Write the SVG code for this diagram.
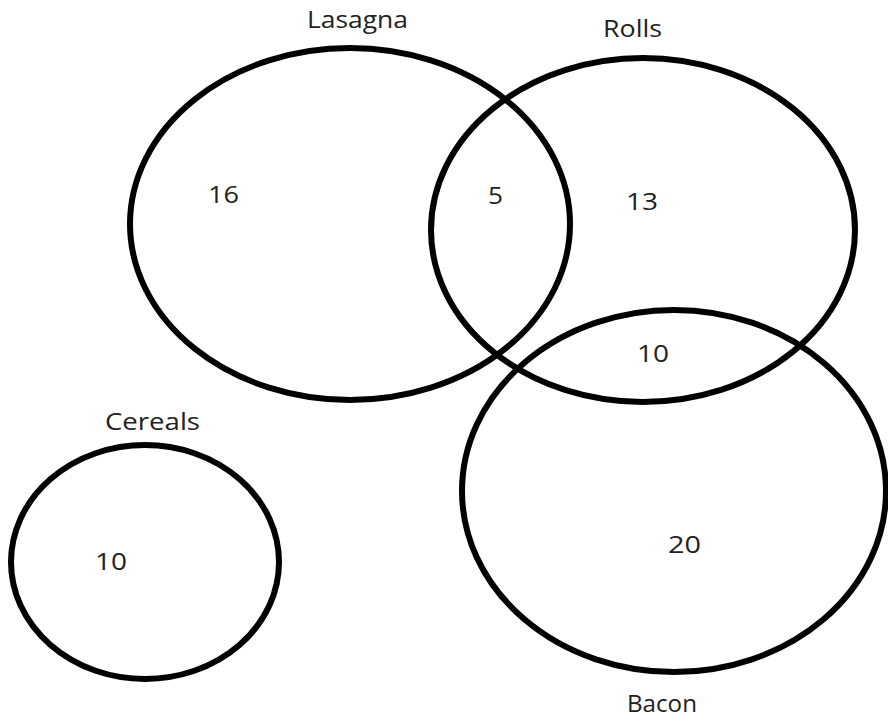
<svg xmlns="http://www.w3.org/2000/svg" width="888" height="721" viewBox="0 0 888 721">
<style>
.c{fill:none;stroke:#000;stroke-width:6}
.t{font-family:"Open Sans","Liberation Sans",sans-serif;font-size:23px;fill:#222}
</style>
<rect width="888" height="721" fill="#fff"/>
<g id="lasagna"><ellipse class="c" cx="350" cy="224" rx="220" ry="176"/><text class="t" x="307" y="28" textLength="101" lengthAdjust="spacingAndGlyphs">Lasagna</text><text class="t" x="208" y="203" textLength="31" lengthAdjust="spacingAndGlyphs">16</text></g>
<g id="rolls"><ellipse class="c" cx="643" cy="230" rx="212" ry="172"/><text class="t" x="603" y="37" textLength="59" lengthAdjust="spacingAndGlyphs">Rolls</text><text class="t" x="626" y="210" textLength="32" lengthAdjust="spacingAndGlyphs">13</text></g>
<g id="bacon"><ellipse class="c" cx="674" cy="491" rx="212" ry="181"/><text class="t" x="627" y="712" textLength="70" lengthAdjust="spacingAndGlyphs">Bacon</text><text class="t" x="668" y="553" textLength="33" lengthAdjust="spacingAndGlyphs">20</text></g>
<g id="cereals"><ellipse class="c" cx="145" cy="562" rx="134" ry="117"/><text class="t" x="105" y="430" textLength="95" lengthAdjust="spacingAndGlyphs">Cereals</text><text class="t" x="95" y="570" textLength="32" lengthAdjust="spacingAndGlyphs">10</text></g>
<g id="overlaps"><text class="t" x="488" y="204" textLength="15" lengthAdjust="spacingAndGlyphs">5</text><text class="t" x="637" y="362" textLength="32" lengthAdjust="spacingAndGlyphs">10</text></g>
<g id="connectors"/>
</svg>
